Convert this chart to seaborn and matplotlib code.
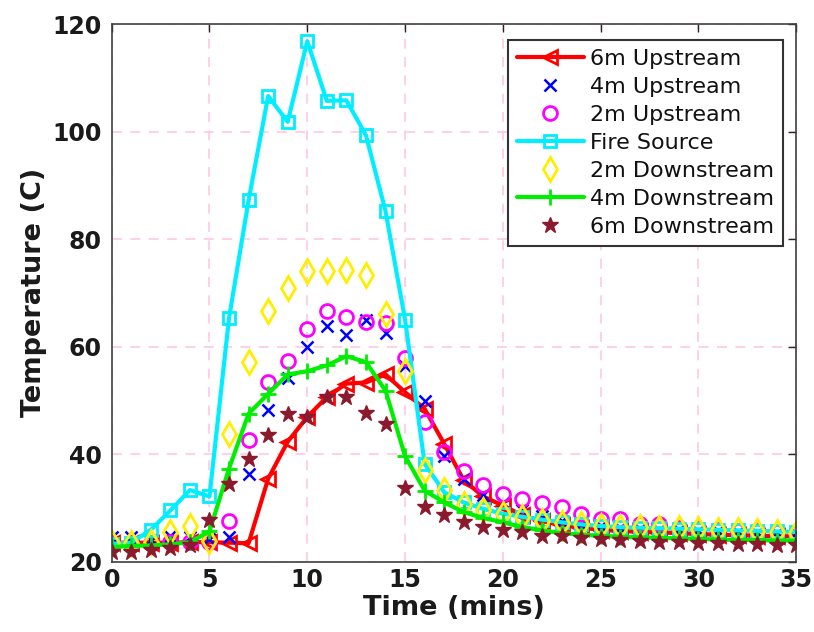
import numpy as np
import pandas as pd
import matplotlib
matplotlib.use("Agg")
import matplotlib.pyplot as plt
import seaborn as sns

time_min = list(range(0, 36))

up6 = [23.5, 23.5, 23.5, 23.5, 23.6, 23.6, 23.5, 23.4, 35.4, 42.3, 46.9, 50.6, 53.1, 53.3, 54.8, 51.5,
       48.4, 41.9, 35.1, 32.1, 30.4, 28.6, 27.5, 26.8, 26.3, 25.9, 25.7, 25.5, 25.4, 25.3, 25.1, 25.0,
       24.9, 24.8, 24.7, 24.7]
up4 = [24.6, 24.5, 24.0, 24.8, 24.5, 24.2, 24.5, 36.3, 48.1, 54.2, 59.9, 63.8, 62.1, 65.0, 62.5, 56.3,
       49.8, 39.7, 35.4, 32.3, 30.9, 29.6, 28.4, 27.6, 27.0, 26.6, 26.3, 26.1, 25.9, 25.8, 25.7, 25.6,
       25.5, 25.4, 25.4, 25.3]
up2 = [23.5, 23.5, 23.5, 23.6, 23.6, 23.6, 27.6, 42.7, 53.4, 57.4, 63.3, 66.7, 65.5, 64.6, 64.3, 57.9,
       46.0, 40.4, 36.8, 34.3, 32.6, 31.7, 30.9, 30.2, 28.9, 28.0, 28.0, 26.9, 26.9, 26.3, 26.0, 25.8,
       25.7, 25.6, 25.5, 25.4]
fire = [23.3, 23.5, 25.9, 29.5, 33.3, 32.1, 65.3, 87.2, 106.6, 101.8, 116.8, 105.7, 105.8, 99.3, 85.2, 65.0,
        38.2, 32.9, 31.0, 29.8, 28.9, 28.3, 27.8, 27.3, 26.9, 26.6, 26.4, 26.3, 26.2, 26.1, 26.0, 25.9,
        25.8, 25.7, 25.6, 25.5]
down2 = [23.5, 23.5, 23.6, 25.5, 26.7, 23.8, 43.7, 57.1, 66.7, 70.8, 74.1, 74.1, 74.3, 73.3, 66.1, 55.4,
         37.1, 33.3, 30.7, 29.6, 28.9, 28.3, 27.6, 27.2, 26.9, 26.7, 26.5, 26.4, 26.3, 26.2, 26.0, 25.9,
         25.8, 25.6, 25.5, 25.3]
down4 = [22.7, 22.9, 23.0, 23.2, 23.6, 25.6, 37.3, 47.5, 51.2, 54.8, 55.4, 56.5, 58.2, 57.1, 51.8, 39.6,
         33.2, 31.0, 29.2, 28.1, 27.3, 26.4, 25.8, 25.3, 25.0, 24.8, 24.6, 24.5, 24.4, 24.3, 24.2, 24.1,
         24.0, 24.0, 23.9, 23.9]
down6 = [21.7, 21.7, 22.2, 22.5, 23.0, 27.8, 34.5, 39.1, 43.5, 47.4, 46.9, 50.7, 50.6, 47.6, 45.6, 33.7,
         30.2, 28.6, 27.3, 26.5, 25.8, 25.5, 24.8, 24.7, 24.4, 24.2, 24.0, 23.8, 23.7, 23.6, 23.5, 23.4,
         23.3, 23.2, 23.1, 23.0]

x_ticks = [0, 5, 10, 15, 20, 25, 30, 35]
y_ticks = [20, 40, 60, 80, 100, 120]

sns.set_style("white")
plt.rcParams['font.family'] = ['DejaVu Sans']

fig = plt.figure(figsize=(8.14, 6.32), dpi=100)
ax = fig.add_axes([0.1372, 0.1115, 0.8410, 0.8505])

t = np.array(time_min)
RED, BLUE, MAG, CYAN, YEL, GRN, MAR = '#ff0000', '#0000ff', '#ff00ff', '#00eeff', '#ffee00', '#00ee00', '#8b1a2e'
sns.lineplot(x=t, y=up6, ax=ax, color=RED, lw=3, marker='<', ms=10, mfc='none',
             mec=RED, mew=2, label='6m Upstream')
sns.lineplot(x=t, y=up4, ax=ax, color=BLUE, linestyle='none', marker='x', ms=9,
             mec=BLUE, mew=1.8, label='4m Upstream')
sns.lineplot(x=t, y=up2, ax=ax, color=MAG, linestyle='none', marker='o', ms=10, mfc='none',
             mec=MAG, mew=2, label='2m Upstream')
sns.lineplot(x=t, y=fire, ax=ax, color=CYAN, lw=3, marker='s', ms=8, mfc='none',
             mec=CYAN, mew=2, label='Fire Source')
sns.lineplot(x=t, y=down2, ax=ax, color=YEL, linestyle='none', marker='d', ms=12, mfc='none',
             mec=YEL, mew=2, label='2m Downstream')
sns.lineplot(x=t, y=down4, ax=ax, color=GRN, lw=3, marker='+', ms=12,
             mec=GRN, mew=2, label='4m Downstream')
sns.lineplot(x=t, y=down6, ax=ax, color=MAR, linestyle='none', marker='*', ms=12,
             mec=MAR, mfc=MAR, mew=1, label='6m Downstream')

ax.set_xlim(0, 35)
ax.set_ylim(20, 120)
ax.set_xticks(x_ticks)
ax.set_yticks(y_ticks)
ax.set_xticklabels([str(v) for v in x_ticks], fontsize=17, fontweight='bold')
ax.set_yticklabels([str(v) for v in y_ticks], fontsize=17, fontweight='bold')
ax.set_xlabel('Time (mins)', fontsize=19.5, fontweight='bold', labelpad=2, color='#1a1a1a')
ax.set_ylabel('Temperature (C)', fontsize=19.5, fontweight='bold', labelpad=4, color='#1a1a1a')

ax.grid(True, color='#ffc8e4', linestyle=(0, (6, 5)), linewidth=1.2)
ax.set_axisbelow(True)
ax.tick_params(direction='in', length=6, width=1, top=True, right=True, colors='#262626',
               labelcolor='#1a1a1a', pad=5)
ax.tick_params(axis='y', pad=7)
for s in ax.spines.values():
    s.set_visible(True)
    s.set_color('#404040')
    s.set_linewidth(1.2)

leg = ax.legend(loc='upper right', bbox_to_anchor=(0.981, 0.970), fontsize=16, frameon=True,
                fancybox=False, edgecolor='#333333', framealpha=1, handlelength=3.0,
                handletextpad=0.3, borderpad=0.4, labelspacing=0.36, borderaxespad=0)
leg.get_frame().set_linewidth(1.5)
for txt in leg.get_texts():
    txt.set_color('#111111')

fig.savefig('out.png', dpi=100)
